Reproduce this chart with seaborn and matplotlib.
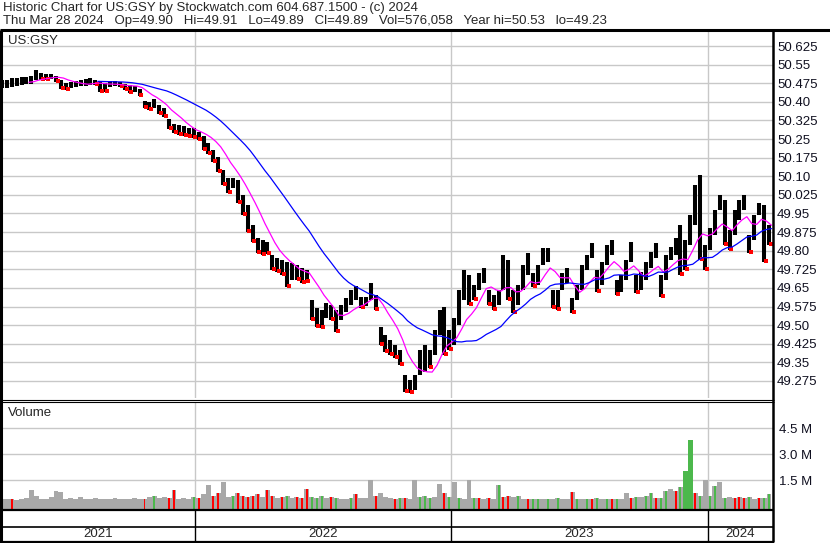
import numpy as np
import pandas as pd
import matplotlib
matplotlib.use("Agg")
import matplotlib.pyplot as plt
from matplotlib.lines import Line2D
import seaborn as sns

# ---------------- data (weekly) ----------------
start_date = "2021-03-29"
week_high = [
    50.488, 50.488, 50.496, 50.496, 50.500, 50.500, 50.504, 50.530, 50.516, 50.512,
    50.512, 50.504, 50.488, 50.476, 50.480, 50.484, 50.488, 50.492, 50.496, 50.488,
    50.480, 50.476, 50.484, 50.484, 50.480, 50.472, 50.468, 50.464, 50.452, 50.403,
    50.399, 50.411, 50.387, 50.375, 50.331, 50.311, 50.307, 50.303, 50.295, 50.295,
    50.278, 50.262, 50.234, 50.206, 50.178, 50.125, 50.093, 50.093, 50.085, 50.024,
    49.984, 49.904, 49.851, 49.843, 49.835, 49.783, 49.771, 49.763, 49.754, 49.750,
    49.742, 49.730, 49.722, 49.601, 49.569, 49.561, 49.589, 49.581, 49.561, 49.581,
    49.609, 49.642, 49.658, 49.613, 49.613, 49.670, 49.621, 49.492, 49.460, 49.440,
    49.420, 49.400, 49.299, 49.279, 49.299, 49.400, 49.420, 49.400, 49.480, 49.561,
    49.573, 49.480, 49.529, 49.642, 49.722, 49.702, 49.662, 49.710, 49.730, 49.642,
    49.621, 49.642, 49.783, 49.763, 49.642, 49.662, 49.742, 49.791, 49.710, 49.742,
    49.811, 49.811, 49.642, 49.642, 49.710, 49.730, 49.609, 49.662, 49.742, 49.783,
    49.831, 49.722, 49.754, 49.823, 49.843, 49.682, 49.702, 49.763, 49.835, 49.702,
    49.714, 49.754, 49.795, 49.831, 49.702, 49.783, 49.815, 49.851, 49.904, 49.843,
    49.944, 50.065, 50.105, 49.823, 49.891, 49.964, 50.024, 50.004, 49.883, 49.964,
    50.004, 50.024, 49.863, 49.944, 49.992, 49.984, 49.904,
]
week_low = [
    50.456, 50.456, 50.460, 50.464, 50.468, 50.472, 50.472, 50.488, 50.488, 50.488,
    50.492, 50.480, 50.452, 50.448, 50.456, 50.460, 50.464, 50.464, 50.468, 50.468,
    50.440, 50.440, 50.460, 50.464, 50.460, 50.448, 50.436, 50.440, 50.423, 50.375,
    50.367, 50.375, 50.351, 50.339, 50.291, 50.274, 50.266, 50.262, 50.258, 50.254,
    50.246, 50.206, 50.190, 50.157, 50.117, 50.065, 50.033, 50.053, 49.992, 49.944,
    49.875, 49.835, 49.791, 49.783, 49.787, 49.722, 49.714, 49.702, 49.654, 49.682,
    49.682, 49.670, 49.674, 49.521, 49.492, 49.488, 49.529, 49.521, 49.472, 49.521,
    49.553, 49.581, 49.601, 49.569, 49.577, 49.601, 49.561, 49.420, 49.392, 49.380,
    49.367, 49.339, 49.230, 49.226, 49.238, 49.299, 49.311, 49.327, 49.380, 49.460,
    49.380, 49.400, 49.420, 49.500, 49.601, 49.581, 49.601, 49.642, 49.670, 49.581,
    49.561, 49.581, 49.642, 49.601, 49.549, 49.581, 49.642, 49.702, 49.654, 49.662,
    49.742, 49.754, 49.569, 49.561, 49.642, 49.670, 49.549, 49.601, 49.642, 49.722,
    49.771, 49.634, 49.662, 49.742, 49.783, 49.621, 49.634, 49.682, 49.754, 49.630,
    49.642, 49.682, 49.730, 49.771, 49.613, 49.682, 49.763, 49.783, 49.702, 49.722,
    49.823, 49.904, 49.763, 49.722, 49.803, 49.863, 49.964, 49.823, 49.803, 49.863,
    49.924, 49.964, 49.791, 49.843, 49.944, 49.754, 49.823,
]
week_volume_m = [
    0.40, 0.40, 0.45, 0.35, 0.45, 0.50, 0.95, 0.60, 0.40, 0.45,
    0.55, 0.90, 0.85, 0.45, 0.50, 0.40, 0.55, 0.45, 0.40, 0.50,
    0.40, 0.45, 0.40, 0.50, 0.45, 0.40, 0.45, 0.50, 0.45, 0.40,
    0.55, 0.60, 0.50, 0.55, 0.50, 0.95, 0.45, 0.50, 0.45, 0.55,
    0.50, 0.70, 1.25, 0.60, 0.75, 1.40, 0.55, 0.60, 0.75, 0.60,
    0.55, 0.60, 0.70, 0.55, 0.95, 0.60, 0.50, 0.55, 0.60, 0.50,
    0.55, 0.50, 1.00, 0.55, 0.50, 0.60, 0.50, 0.55, 0.50, 0.45,
    0.45, 0.50, 0.70, 0.50, 0.50, 1.50, 0.60, 0.75, 0.55, 0.50,
    0.45, 0.50, 0.50, 0.45, 1.50, 0.55, 0.60, 0.50, 0.55, 1.30,
    0.80, 0.55, 1.40, 0.50, 0.45, 1.50, 0.50, 0.50, 0.45, 0.50,
    0.45, 1.25, 0.55, 0.60, 0.55, 0.60, 0.45, 0.40, 0.45, 0.45,
    0.40, 0.45, 0.45, 0.50, 0.40, 0.45, 0.85, 0.45, 0.40, 0.45,
    0.40, 0.50, 0.45, 0.40, 0.45, 0.45, 0.45, 0.75, 0.50, 0.55,
    0.55, 0.60, 0.80, 0.50, 0.50, 0.90, 1.00, 0.90, 1.10, 2.05,
    3.80, 0.80, 0.60, 1.55, 0.60, 1.20, 1.40, 0.50, 0.55, 0.50,
    0.55, 0.50, 0.55, 0.45, 0.50, 0.50, 0.70,
]
# n = neutral (grey), r = red, g = green
volume_class = list(
    "nnrnnnnnnn" "nnnnnnnnnn" "nnnnnnnnnr" "ngnnrrnnng" "rnnrrnngrr"
    "rrrnrrnrgn" "rrrgggnrgn" "ngrnnnrnnn" "rgrnngggnn" "rgngnngrnr"
    "ngrrngnrgg" "ngngnnrgng" "rgngrgnnrg" "nggrggnrgg" "grgnggngnr"
    "rrgnrgg"
)
price_ticks = [49.275, 49.35, 49.425, 49.50, 49.575, 49.65, 49.725, 49.80, 49.875,
               49.95, 50.025, 50.10, 50.175, 50.25, 50.325, 50.40, 50.475, 50.55, 50.625]
price_tick_labels = ["49.275", "49.35", "49.425", "49.50", "49.575", "49.65", "49.725",
                     "49.80", "49.875", "49.95", "50.025", "50.10", "50.175", "50.25",
                     "50.325", "50.40", "50.475", "50.55", "50.625"]
volume_ticks = [1.5, 3.0, 4.5]
volume_tick_labels = ["1.5 M", "3.0 M", "4.5 M"]
years = [2021, 2022, 2023, 2024]
header_1 = "Historic Chart for US:GSY by Stockwatch.com 604.687.1500 - (c) 2024"
header_2 = ("Thu Mar 28 2024   Op=49.90   Hi=49.91   Lo=49.89   Cl=49.89   "
            "Vol=576,058   Year hi=50.53   lo=49.23")

# ---------------- prepare frame ----------------
start = pd.Timestamp(start_date)
df = pd.DataFrame({"high": week_high, "low": week_low,
                   "vol": week_volume_m, "cls": volume_class})
df["x"] = np.arange(len(df)) + 0.45
df["mid"] = (df["high"] + df["low"]) / 2
df["ma_short"] = df["mid"].rolling(6).mean()
df["ma_long"] = df["mid"].rolling(20).mean()
df["down"] = df["mid"] < df["mid"].shift(1)
year_x = [(pd.Timestamp(f"{y}-01-01") - start).days / 7 for y in years[1:]]

sns.set_style("white")
plt.rcParams["font.family"] = ["Liberation Sans", "DejaVu Sans"]
FS = 9.5
plt.rcParams["font.size"] = FS

W, H = 830, 543
fig = plt.figure(figsize=(W / 100, H / 100), dpi=100)
fig.patch.set_facecolor("white")

def fx(px):
    return px / W

def fy(py):
    return 1 - py / H

XL = (0.468, 157.27)
ax_p = fig.add_axes([fx(2), fy(398), fx(771), 368 / H])
ax_v = fig.add_axes([fx(2), fy(509), fx(771), 107 / H])
ax_y = fig.add_axes([fx(2), fy(541), fx(771), 32 / H])
for ax in (ax_p, ax_v, ax_y):
    ax.set_xlim(*XL)
    for s in ax.spines.values():
        s.set_visible(False)
    ax.set_xticks([])

grid_c = "#c8c8c8"
# ---- price panel ----
ax_p.set_ylim(49.2062, 50.6895)
ax_p.set_yticks(price_ticks)
ax_p.set_yticklabels(price_tick_labels)
ax_p.yaxis.tick_right()
ax_p.tick_params(axis="y", length=0, pad=3, labelsize=FS, labelcolor="#101020")
for t in price_ticks:
    ax_p.axhline(t, color=grid_c, lw=1, zorder=0)
for xv in year_x:
    ax_p.axvline(xv, color=grid_c, lw=1, zorder=0)

ax_p.vlines(df["x"], df["low"], df["high"], color="black", lw=2.9, zorder=3)
dn = df[df["down"]]
sns.scatterplot(x=dn["x"] + 0.35, y=dn["low"] + 0.004, ax=ax_p, color="red", marker="s",
                s=6, linewidth=0, zorder=4, legend=False)
sns.lineplot(x=df["x"] + 0.5, y=df["ma_short"], ax=ax_p, color="#ff00ff", lw=0.9, zorder=5)
sns.lineplot(x=df["x"] + 0.5, y=df["ma_long"], ax=ax_p, color="#0000ff", lw=0.9, zorder=5)
ax_p.set_xlim(*XL)
ax_p.set_xlabel("")
ax_p.set_ylabel("")
ax_p.text(6 / 771, 1 - 11 / 368, "US:GSY", transform=ax_p.transAxes,
          ha="left", va="center", fontsize=FS)

# ---- volume panel ----
base = -0.15
ax_v.set_ylim(base, 6.02)
ax_v.set_yticks(volume_ticks)
ax_v.set_yticklabels(volume_tick_labels)
ax_v.yaxis.tick_right()
ax_v.tick_params(axis="y", length=0, pad=4, labelsize=FS, labelcolor="#101020")
for t in volume_ticks:
    ax_v.axhline(t, color=grid_c, lw=1, zorder=0)
for xv in year_x:
    ax_v.axvline(xv, color=grid_c, lw=1, zorder=0)
cmap = {"r": "#ff0000", "g": "#4cb84c"}
ax_v.bar(df["x"], df["vol"] - base, bottom=base, width=1.0,
         color="#a8a8a8", linewidth=0, zorder=2)
col = df[df["cls"] != "n"]
big = col["vol"] > 1.8
ax_v.bar(col["x"], col["vol"] - base, bottom=base,
         width=np.where(big, 0.9, 0.4),
         color=[cmap[c] for c in col["cls"]], linewidth=0, zorder=3)
ax_v.text(6 / 771, 1 - 11 / 107, "Volume", transform=ax_v.transAxes,
          ha="left", va="center", fontsize=FS)

# ---- year band ----
ax_y.set_ylim(0, 32)
ax_y.set_yticks([])
bounds = [XL[0]] + year_x + [XL[1]]
for i, y in enumerate(years):
    ax_y.text((bounds[i] + bounds[i + 1]) / 2, 7, str(y), ha="center", va="center",
              fontsize=FS)
for xv in year_x:
    ax_y.plot([xv, xv], [0, 32], color="black", lw=1)

# ---- frame lines ----
def hline(py, x0, x1, lw):
    fig.add_artist(Line2D([fx(x0), fx(x1)], [fy(py), fy(py)], color="black", lw=lw,
                          transform=fig.transFigure, solid_capstyle="butt"))

def vline(px, y0, y1, lw):
    fig.add_artist(Line2D([fx(px), fx(px)], [fy(y0), fy(y1)], color="black", lw=lw,
                          transform=fig.transFigure, solid_capstyle="butt"))

hline(30, 0, W, 2.2)
hline(399.5, 0, 774, 0.8)
hline(402, 0, 774, 0.8)
hline(509.5, 0, 774, 1.6)
hline(527, 0, 774, 1.2)
hline(541.5, 0, 774, 1.6)
vline(1, 30, 542, 2.2)
vline(773, 30, 542, 1.8)

fig.text(fx(3), fy(8), header_1, ha="left", va="center", fontsize=FS)
fig.text(fx(3), fy(21), header_2, ha="left", va="center", fontsize=FS)

fig.savefig("out.png", dpi=100, facecolor="white")
